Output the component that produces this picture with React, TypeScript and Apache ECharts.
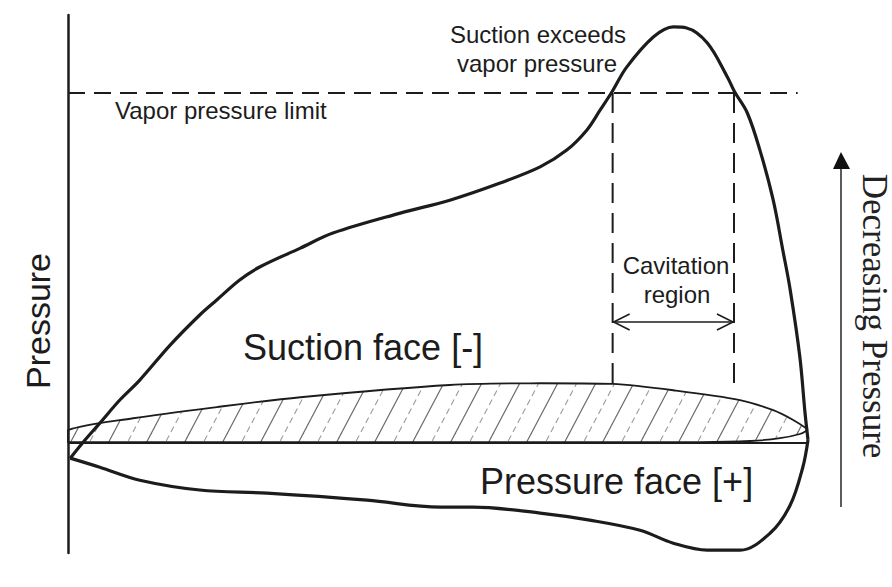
import React, { useEffect, useRef } from "react";
import * as echarts from "echarts";

// Chord position in % of chord, pressure in units where the vapor pressure limit = 100
const suctionX = [0.3, 2.3, 4.3, 7.0, 9.7, 13.8, 17.8, 20.1, 23.2, 25.9, 31.4, 35.8, 44.9, 51.6, 58.4, 63.8, 67.4, 70.1, 71.9, 73.5, 75.5, 79.1, 81.8, 83.6, 86.4, 89.1, 90.1, 91.8, 93.5, 95.3, 96.6, 97.6, 98.9, 99.6, 100];
const suctionY = [-4.3, 0.9, 5.7, 12.3, 18.0, 28.0, 36.6, 40.9, 46.6, 50.3, 55.7, 60.0, 65.7, 69.4, 74.3, 78.9, 83.7, 89.4, 95.1, 100.3, 107.4, 116.0, 118.9, 118.6, 114.3, 104.6, 100.3, 94.3, 83.7, 69.4, 55.1, 43.7, 24.6, 8.6, 0.9];

const pressureX = [0.3, 4.3, 9.7, 17.8, 26.9, 40.4, 50.3, 54.7, 63.8, 70.5, 77.3, 81.8, 86.4, 90.8, 94.9, 97.6, 99.3, 100];
const pressureY = [-4.3, -6.9, -10.6, -13.4, -14.3, -16.3, -18.3, -18.3, -20.0, -22.0, -24.9, -28.6, -30.6, -30.6, -25.7, -17.7, -6.9, 0.9];

const foilUpperX = [0, 8.8, 20.1, 31.4, 51.6, 63.8, 73.6, 81.8, 90.8, 95.3, 98.0, 99.9];
const foilUpperY = [3.7, 7.1, 10.3, 13.1, 16.6, 17.1, 16.9, 15.1, 12.3, 9.4, 6.6, 4.0];
const foilLowerX = [99.9, 98.9, 96.2, 92.2, 85.4, 0];
const foilLowerY = [3.7, 2.6, 1.4, 0.6, 0.3, 0.3];

const chordX = [0, 100];
const vaporLevel = 100;
const vaporLineX = [0, 98.6];
const cavitationX = [73.6, 90.0];
const cavitationFoilY = [17.2, 15.0];
const cavitationArrowLevel = 34.6;

const yRange = [-31.4, 122.3];

function makeHatch() {
  const W = 38;
  const H = 72;
  const c = document.createElement("canvas");
  c.width = W;
  c.height = H;
  const ctx = c.getContext("2d");
  if (ctx) {
    const draw = (off: number) => {
      ctx.beginPath();
      ctx.moveTo(off - W, 2 * H);
      ctx.lineTo(off + 2 * W, -H);
      ctx.stroke();
    };
    ctx.strokeStyle = "#6a6a6a";
    ctx.lineWidth = 1.2;
    ctx.setLineDash([]);
    [-W, 0, W].forEach(draw);
    const L = Math.sqrt(W * W + H * H);
    ctx.strokeStyle = "#9a9a9a";
    ctx.lineWidth = 1.1;
    ctx.setLineDash([(L / 8) * 0.6, (L / 8) * 0.4]);
    [-W / 2, W / 2].forEach(draw);
  }
  return { image: c.toDataURL(), repeat: "repeat", imageWidth: W, imageHeight: H };
}

export default function App() {
  const ref = useRef<HTMLDivElement>(null);
  useEffect(() => {
    if (!ref.current) return;
    const chart = echarts.init(ref.current, null, { renderer: "svg" });
    const ink = "#1c1c1c";
    const sans = '"Liberation Sans", Arial, sans-serif';
    const serif = '"Liberation Serif", "Times New Roman", serif';
    const hatch = makeHatch();

    const option: any = {
      animation: false,
      backgroundColor: "#ffffff",
      grid: { left: 68, right: 84, top: 15, bottom: 34 },
      xAxis: { type: "value", min: 0, max: 100, show: false },
      yAxis: {
        type: "value",
        min: yRange[0],
        max: yRange[1],
        axisLine: { show: true, onZero: false, lineStyle: { color: ink, width: 2.5 } },
        axisTick: { show: false },
        axisLabel: { show: false },
        splitLine: { show: false },
      },
      series: [
        {
          type: "custom",
          name: "Airfoil",
          silent: true,
          z: 1,
          data: [0],
          renderItem: (_p: any, api: any) => {
            const pts: number[][] = [];
            foilUpperX.forEach((x, i) => pts.push(api.coord([x, foilUpperY[i]])));
            foilLowerX.forEach((x, i) => pts.push(api.coord([x, foilLowerY[i]])));
            let minX = Infinity, minY = Infinity, maxX = -Infinity, maxY = -Infinity;
            pts.forEach((p) => {
              minX = Math.min(minX, p[0]);
              maxX = Math.max(maxX, p[0]);
              minY = Math.min(minY, p[1]);
              maxY = Math.max(maxY, p[1]);
            });
            return {
              type: "polygon",
              shape: { points: pts, smooth: 0.3, smoothConstraint: [[minX, minY], [maxX, maxY]] },
              style: { fill: hatch, stroke: ink, lineWidth: 1.8 },
            };
          },
        },
        {
          type: "line",
          name: "Chord",
          data: chordX.map((x) => [x, 0]),
          symbol: "none",
          z: 2,
          lineStyle: { color: ink, width: 2 },
        },
        {
          type: "line",
          name: "Vapor pressure limit",
          data: vaporLineX.map((x) => [x, vaporLevel]),
          symbol: "none",
          z: 2,
          lineStyle: { color: ink, width: 2, type: [17, 9] },
        },
        {
          type: "line",
          name: "Suction face",
          data: suctionX.map((x, i) => [x, suctionY[i]]),
          symbol: "none",
          smooth: 0.35,
          z: 3,
          lineStyle: { color: ink, width: 3.2 },
        },
        {
          type: "line",
          name: "Pressure face",
          data: pressureX.map((x, i) => [x, pressureY[i]]),
          symbol: "none",
          smooth: 0.35,
          z: 3,
          lineStyle: { color: ink, width: 3.2 },
        },
        {
          type: "custom",
          name: "Cavitation region",
          silent: true,
          z: 2,
          data: [0],
          renderItem: (_p: any, api: any) => {
            const [xa, xb] = cavitationX;
            const tA = api.coord([xa, vaporLevel]);
            const bA = api.coord([xa, cavitationFoilY[0]]);
            const tB = api.coord([xb, vaporLevel]);
            const bB = api.coord([xb, cavitationFoilY[1]]);
            const aL = api.coord([xa, cavitationArrowLevel]);
            const aR = api.coord([xb, cavitationArrowLevel]);
            const dash = { stroke: ink, lineWidth: 2, lineDash: [20, 10] };
            const thin = { stroke: ink, lineWidth: 1.6, fill: "none" };
            return {
              type: "group",
              children: [
                { type: "line", shape: { x1: tA[0], y1: tA[1], x2: bA[0], y2: bA[1] }, style: dash },
                { type: "line", shape: { x1: tB[0], y1: tB[1], x2: bB[0], y2: bB[1] }, style: dash },
                { type: "line", shape: { x1: aL[0] + 1, y1: aL[1], x2: aR[0] - 1, y2: aR[1] }, style: thin },
                {
                  type: "polyline",
                  shape: { points: [[aL[0] + 17, aL[1] - 8], [aL[0] + 1, aL[1]], [aL[0] + 17, aL[1] + 8]] },
                  style: thin,
                },
                {
                  type: "polyline",
                  shape: { points: [[aR[0] - 17, aR[1] - 8], [aR[0] - 1, aR[1]], [aR[0] - 17, aR[1] + 8]] },
                  style: thin,
                },
              ],
            };
          },
        },
      ],
      graphic: [
        {
          type: "text",
          x: 115,
          y: 110,
          style: { text: "Vapor pressure limit", fontSize: 24, fontFamily: sans, fill: ink, align: "left", verticalAlign: "middle" },
        },
        {
          type: "text",
          x: 538,
          y: 34,
          style: { text: "Suction exceeds", fontSize: 24, fontFamily: sans, fill: ink, align: "center", verticalAlign: "middle" },
        },
        {
          type: "text",
          x: 537,
          y: 63,
          style: { text: "vapor pressure", fontSize: 24, fontFamily: sans, fill: ink, align: "center", verticalAlign: "middle" },
        },
        {
          type: "text",
          x: 676,
          y: 265,
          style: { text: "Cavitation", fontSize: 24, fontFamily: sans, fill: ink, align: "center", verticalAlign: "middle" },
        },
        {
          type: "text",
          x: 677,
          y: 294,
          style: { text: "region", fontSize: 24, fontFamily: sans, fill: ink, align: "center", verticalAlign: "middle" },
        },
        {
          type: "text",
          x: 243,
          y: 347,
          style: { text: "Suction face [-]", fontSize: 36, fontFamily: sans, fill: ink, align: "left", verticalAlign: "middle" },
        },
        {
          type: "text",
          x: 480,
          y: 481,
          style: { text: "Pressure face [+]", fontSize: 36, fontFamily: sans, fill: ink, align: "left", verticalAlign: "middle" },
        },
        {
          type: "text",
          x: 38,
          y: 321,
          rotation: Math.PI / 2,
          style: { text: "Pressure", fontSize: 34, fontFamily: sans, fill: ink, align: "center", verticalAlign: "middle" },
        },
        {
          type: "text",
          x: 874,
          y: 316,
          rotation: -Math.PI / 2,
          style: { text: "Decreasing Pressure", fontSize: 35, fontFamily: serif, fill: "#222", align: "center", verticalAlign: "middle" },
        },
        {
          type: "line",
          shape: { x1: 841, y1: 507, x2: 841, y2: 166 },
          style: { stroke: "#333", lineWidth: 1.6 },
        },
        {
          type: "polygon",
          shape: { points: [[841, 152], [833, 169], [850, 169]] },
          style: { fill: "#111" },
        },
      ],
    };
    chart.setOption(option);
    return () => chart.dispose();
  }, []);
  return (
    <div
      ref={ref}
      style={{ position: "fixed", left: 0, top: 0, width: 892, height: 587, background: "#fff" }}
    />
  );
}
